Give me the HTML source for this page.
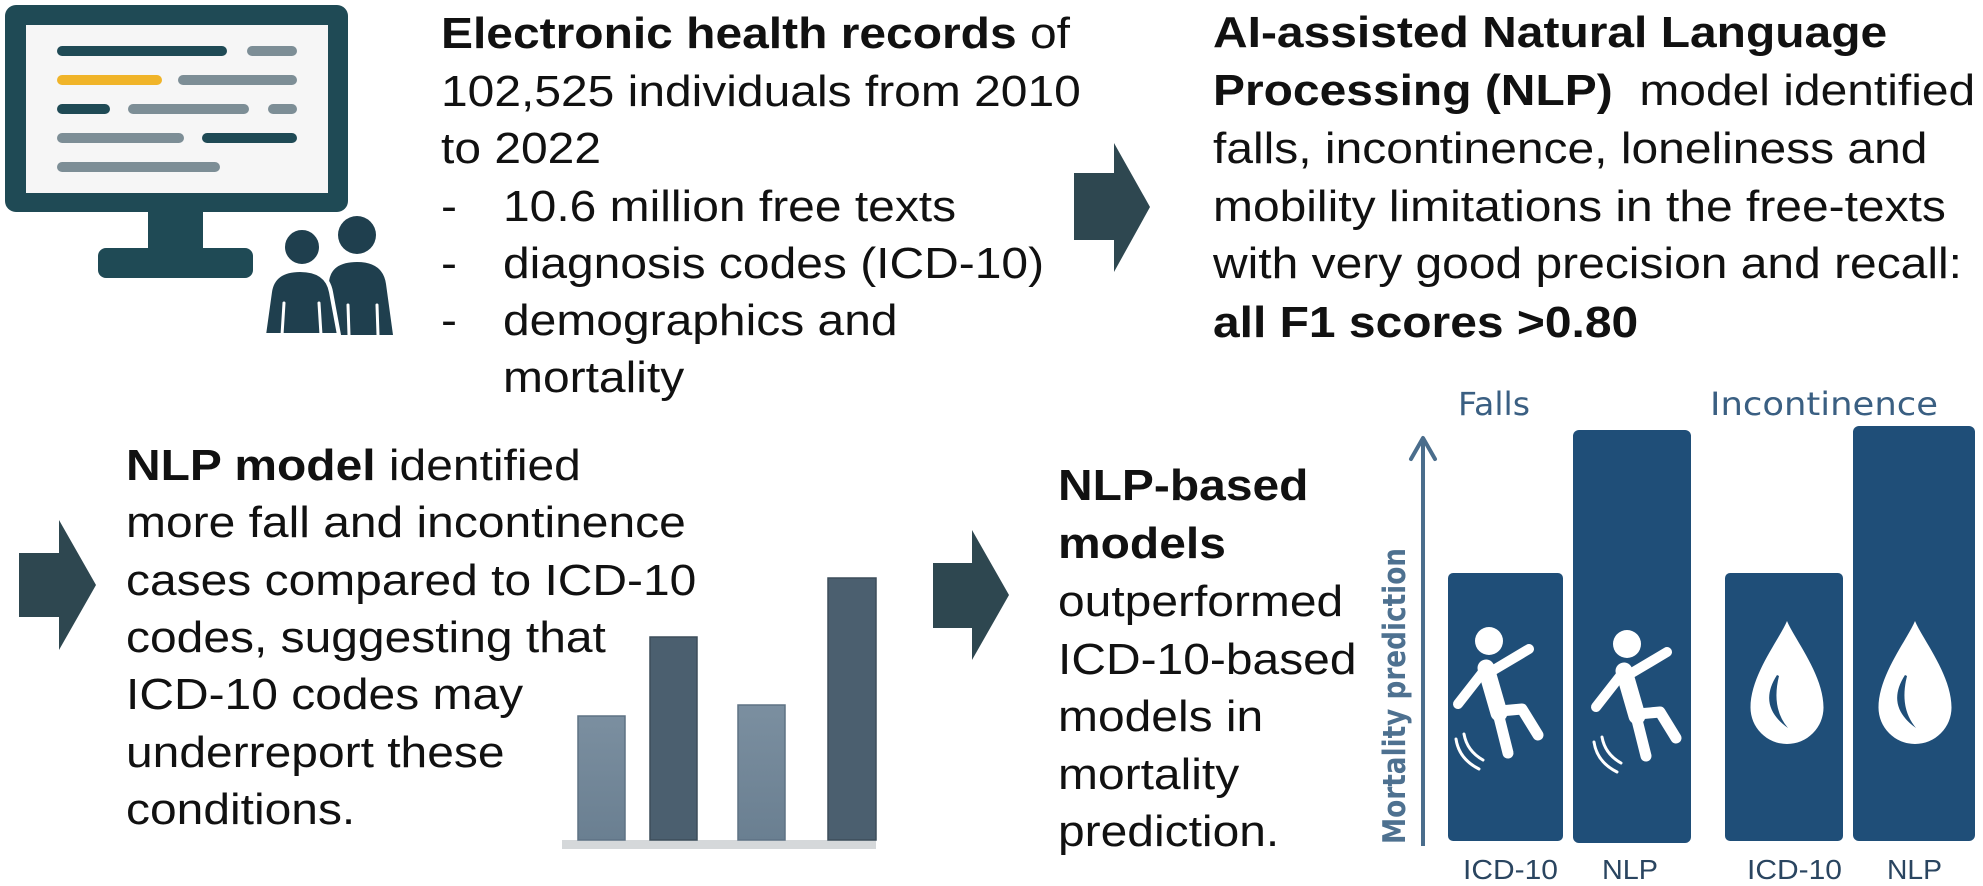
<!DOCTYPE html>
<html>
<head>
<meta charset="utf-8">
<style>
html,body{margin:0;padding:0;background:#fff;}
svg{display:block;}
.t{font-family:"Liberation Sans",Arial,sans-serif;font-size:44px;fill:#111;}
.b{font-weight:bold;}
</style>
</head>
<body>
<svg width="1983" height="886" viewBox="0 0 1983 886" xmlns="http://www.w3.org/2000/svg">
<rect width="1983" height="886" fill="#ffffff"/>

<!-- Monitor -->
<rect x="5" y="5" width="343" height="207" rx="11" fill="#1f4a55"/>
<rect x="26" y="25" width="302" height="168" fill="#f6f6f6"/>
<rect x="148" y="208" width="55" height="44" fill="#1f4a55"/>
<rect x="98" y="248" width="155" height="30" rx="8" fill="#1f4a55"/>
<g stroke-linecap="round" stroke-width="10">
  <line x1="62" y1="51" x2="222" y2="51" stroke="#1f4a55"/>
  <line x1="252" y1="51" x2="292" y2="51" stroke="#7d8e96"/>
  <line x1="62" y1="80" x2="157" y2="80" stroke="#f0b429"/>
  <line x1="183" y1="80" x2="292" y2="80" stroke="#7d8e96"/>
  <line x1="62" y1="109" x2="105" y2="109" stroke="#1f4a55"/>
  <line x1="133" y1="109" x2="244" y2="109" stroke="#7d8e96"/>
  <line x1="273" y1="109" x2="292" y2="109" stroke="#7d8e96"/>
  <line x1="62" y1="138" x2="179" y2="138" stroke="#7d8e96"/>
  <line x1="207" y1="138" x2="292" y2="138" stroke="#1f4a55"/>
  <line x1="62" y1="167" x2="215" y2="167" stroke="#7d8e96"/>
</g>

<!-- People -->
<g fill="#1f3f4e">
  <circle cx="357" cy="235" r="19"/>
  <path d="M328 335 L329 282 Q331 262 357 262 Q383 262 386 284 L393 335 Z"/>
</g>
<g stroke="#ffffff" stroke-width="3" stroke-linecap="round">
  <line x1="349" y1="335" x2="348" y2="305"/>
  <line x1="378" y1="335" x2="377" y2="305"/>
</g>
<g fill="#1f3f4e" stroke="#ffffff" stroke-width="4">
  <circle cx="302" cy="247" r="19"/>
  <path d="M264 335 L270 292 Q273 270 300 270 Q327 270 331 292 L339 335 Z"/>
</g>
<g stroke="#ffffff" stroke-width="3" stroke-linecap="round">
  <line x1="282" y1="335" x2="284" y2="303"/>
  <line x1="321" y1="335" x2="319" y2="303"/>
</g>

<!-- Arrows -->
<path d="M1074 173 L1114 173 L1114 143 L1150 207 L1114 272 L1114 240 L1074 240 Z" fill="#2e4750"/>
<path d="M19 553 L59 553 L59 520 L96 585 L59 650 L59 617 L19 617 Z" fill="#2e4750"/>
<path d="M933 563 L972 563 L972 530 L1009 595 L972 660 L972 628 L933 628 Z" fill="#2e4750"/>

<!-- Top-left text block -->
<g transform="translate(441,0) scale(1.09,1)">
  <text class="t" x="0" y="48"><tspan class="b">Electronic health records</tspan> of</text>
  <text class="t" x="0" y="106">102,525 individuals from 2010</text>
  <text class="t" x="0" y="163">to 2022</text>
  <text class="t" x="0" y="221">-</text>
  <text class="t" x="0" y="278">-</text>
  <text class="t" x="0" y="335">-</text>
</g>
<g transform="translate(503,0) scale(1.09,1)">
  <text class="t" x="0" y="221">10.6 million free texts</text>
  <text class="t" x="0" y="278">diagnosis codes (ICD-10)</text>
  <text class="t" x="0" y="335">demographics and</text>
  <text class="t" x="0" y="392">mortality</text>
</g>

<!-- Top-right text block -->
<g transform="translate(1213,0) scale(1.09,1)">
  <text class="t b" x="0" y="47">AI-assisted Natural Language</text>
  <text class="t" x="0" y="105" xml:space="preserve"><tspan class="b">Processing (NLP)</tspan>  model identified</text>
  <text class="t" x="0" y="163">falls, incontinence, loneliness and</text>
  <text class="t" x="0" y="221">mobility limitations in the free-texts</text>
  <text class="t" x="0" y="278">with very good precision and recall:</text>
  <text class="t b" x="0" y="337">all F1 scores &gt;0.80</text>
</g>

<!-- Left-middle text block -->
<g transform="translate(126,0) scale(1.09,1)">
  <text class="t" x="0" y="480"><tspan class="b">NLP model</tspan> identified</text>
  <text class="t" x="0" y="537">more fall and incontinence</text>
  <text class="t" x="0" y="595">cases compared to ICD-10</text>
  <text class="t" x="0" y="652">codes, suggesting that</text>
  <text class="t" x="0" y="709">ICD-10 codes may</text>
  <text class="t" x="0" y="767">underreport these</text>
  <text class="t" x="0" y="824">conditions.</text>
</g>

<!-- Mini bar chart -->
<defs>
  <linearGradient id="gl" x1="0" y1="0" x2="0" y2="1">
    <stop offset="0" stop-color="#7b8fa0"/><stop offset="1" stop-color="#6a7f91"/>
  </linearGradient>
</defs>
<rect x="562" y="840" width="314" height="9" fill="#d5d8da"/>
<rect x="578" y="716" width="47" height="124" fill="url(#gl)" stroke="#5e7284" stroke-width="1.5"/>
<rect x="650" y="637" width="47" height="203" fill="#4b5f6f" stroke="#3c4d5a" stroke-width="1.5"/>
<rect x="738" y="705" width="47" height="135" fill="url(#gl)" stroke="#5e7284" stroke-width="1.5"/>
<rect x="828" y="578" width="48" height="262" fill="#4b5f6f" stroke="#3c4d5a" stroke-width="1.5"/>

<!-- Middle-right text block -->
<g transform="translate(1058,0) scale(1.09,1)">
  <text class="t b" x="0" y="500">NLP-based</text>
  <text class="t b" x="0" y="558">models</text>
  <text class="t" x="0" y="616">outperformed</text>
  <text class="t" x="0" y="674">ICD-10-based</text>
  <text class="t" x="0" y="731">models in</text>
  <text class="t" x="0" y="789">mortality</text>
  <text class="t" x="0" y="846">prediction.</text>
</g>

<!-- Right chart -->
<text x="1458" y="415" font-family="'DejaVu Sans',sans-serif" font-size="32" fill="#3a5f82" textLength="72" lengthAdjust="spacingAndGlyphs">Falls</text>
<text x="1710" y="415" font-family="'DejaVu Sans',sans-serif" font-size="32" fill="#3a5f82" textLength="228" lengthAdjust="spacingAndGlyphs">Incontinence</text>

<!-- axis arrow -->
<line x1="1423" y1="846" x2="1423" y2="440" stroke="#4a6d8c" stroke-width="4"/>
<polyline points="1411,459 1423,438 1435,459" fill="none" stroke="#4a6d8c" stroke-width="4" stroke-linejoin="round" stroke-linecap="round"/>
<text transform="translate(1405,844) rotate(-90)" x="0" y="0" font-family="'DejaVu Sans',sans-serif" font-weight="bold" font-size="31" fill="#4e7190" textLength="296" lengthAdjust="spacingAndGlyphs">Mortality prediction</text>

<!-- bars -->
<g fill="#1f4e78">
  <rect x="1448" y="573" width="115" height="268" rx="5"/>
  <rect x="1573" y="430" width="118" height="413" rx="6"/>
  <rect x="1725" y="573" width="118" height="268" rx="5"/>
  <rect x="1853" y="426" width="122" height="415" rx="6"/>
</g>

<!-- falling figures -->
<g transform="translate(1489,641)" stroke="#ffffff" stroke-linecap="round" stroke-linejoin="round" fill="none">
  <circle cx="0" cy="0" r="14" fill="#ffffff" stroke="none"/>
  <path d="M-3 27 L10 72" stroke-width="17"/>
  <path d="M3 30 L40 8" stroke-width="10"/>
  <path d="M-6 31 L-31 63" stroke-width="10"/>
  <path d="M9 72 L19 112" stroke-width="11"/>
  <path d="M11 70 L33 68 L49 94" stroke-width="11"/>
  <path d="M-33 98 Q-30 118 -10 128" stroke-width="3"/>
  <path d="M-25 93 Q-22 110 -6 119" stroke-width="3"/>
</g>
<g transform="translate(1627,644)" stroke="#ffffff" stroke-linecap="round" stroke-linejoin="round" fill="none">
  <circle cx="0" cy="0" r="14" fill="#ffffff" stroke="none"/>
  <path d="M-3 27 L10 72" stroke-width="17"/>
  <path d="M3 30 L40 8" stroke-width="10"/>
  <path d="M-6 31 L-31 63" stroke-width="10"/>
  <path d="M9 72 L19 112" stroke-width="11"/>
  <path d="M11 70 L33 68 L49 94" stroke-width="11"/>
  <path d="M-33 98 Q-30 118 -10 128" stroke-width="3"/>
  <path d="M-25 93 Q-22 110 -6 119" stroke-width="3"/>
</g>

<!-- drops -->
<path d="M1787 621 C1795 640 1823.5 675 1823.5 707.5 A36.5 36.5 0 0 1 1750.5 707.5 C1750.5 675 1779 640 1787 621 Z" fill="#ffffff"/>
<path d="M1777 675 Q1757 706 1788 728 Q1771 708 1779 676 Z" fill="#1f4e78"/>
<path d="M1915 621 C1923 640 1951.5 675 1951.5 707.5 A36.5 36.5 0 0 1 1878.5 707.5 C1878.5 675 1907 640 1915 621 Z" fill="#ffffff"/>
<path d="M1905 675 Q1885 706 1916 728 Q1899 708 1907 676 Z" fill="#1f4e78"/>

<!-- bar labels -->
<g font-family="'Liberation Sans',Arial,sans-serif" font-size="28" fill="#2a4560">
  <text x="1463" y="879" textLength="95" lengthAdjust="spacingAndGlyphs">ICD-10</text>
  <text x="1602" y="879" textLength="56" lengthAdjust="spacingAndGlyphs">NLP</text>
  <text x="1747" y="879" textLength="95" lengthAdjust="spacingAndGlyphs">ICD-10</text>
  <text x="1887" y="879" textLength="55" lengthAdjust="spacingAndGlyphs">NLP</text>
</g>
</svg>
</body>
</html>
